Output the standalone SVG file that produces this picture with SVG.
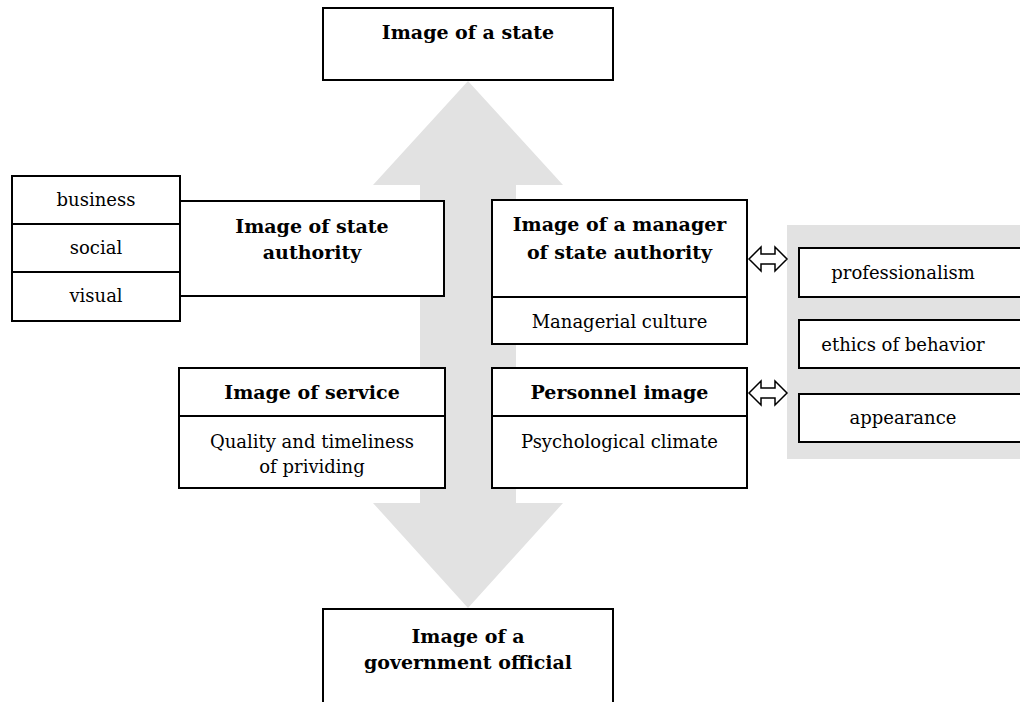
<svg xmlns="http://www.w3.org/2000/svg" width="1020" height="702" viewBox="0 0 1020 702">
<style>
.box{fill:#fff;stroke:#000;stroke-width:2}
.ln{stroke:#000;stroke-width:2;fill:none}
.b{font-family:"DejaVu Serif","Liberation Serif",serif;font-weight:bold;font-size:19px;text-anchor:middle;fill:#000}
.n{font-family:"DejaVu Serif","Liberation Serif",serif;font-size:18px;text-anchor:middle;fill:#000}
.da{fill:#fff;stroke:#000;stroke-width:1.5}
</style>
<rect width="1020" height="702" fill="#fff"/>
<g id="connectors">
<polygon id="big-arrow" fill="#e2e2e2" points="468,81 563,185 516,185 516,503 563,503 468,608 373,503 420,503 420,185 373,185"/>
<rect id="right-panel" x="787" y="225" width="240" height="234" fill="#e2e2e2"/>
<polygon class="da" points="749,259 761,247 761,254 775,254 775,247 787,259 775,271 775,264 761,264 761,271"/>
<polygon class="da" points="749,393 761,381 761,388 775,388 775,381 787,393 775,405 775,398 761,398 761,405"/>
</g>
<g id="state">
<rect class="box" x="323" y="8" width="290" height="72"/>
<text class="b" x="468" y="39">Image of a state</text>
</g>
<g id="aspects">
<rect class="box" x="12" y="176" width="168" height="145"/>
<line class="ln" x1="12" y1="224" x2="180" y2="224"/>
<line class="ln" x1="12" y1="272" x2="180" y2="272"/>
<text class="n" x="96" y="206">business</text>
<text class="n" x="96" y="254">social</text>
<text class="n" x="96" y="302">visual</text>
</g>
<g id="state-authority">
<rect class="box" x="180" y="201" width="264" height="95"/>
<text class="b" x="312" y="233">Image of state</text>
<text class="b" x="312" y="259">authority</text>
</g>
<g id="manager">
<rect class="box" x="492" y="200" width="255" height="144"/>
<line class="ln" x1="492" y1="297" x2="747" y2="297"/>
<text class="b" x="619.5" y="231">Image of a manager</text>
<text class="b" x="619.5" y="259">of state authority</text>
<text class="n" x="619.5" y="328">Managerial culture</text>
</g>
<g id="personnel">
<rect class="box" x="492" y="368" width="255" height="120"/>
<line class="ln" x1="492" y1="416" x2="747" y2="416"/>
<text class="b" x="619.5" y="399">Personnel image</text>
<text class="n" x="619.5" y="448">Psychological climate</text>
</g>
<g id="service">
<rect class="box" x="179" y="368" width="266" height="120"/>
<line class="ln" x1="179" y1="416" x2="445" y2="416"/>
<text class="b" x="312" y="399">Image of service</text>
<text class="n" x="312" y="448">Quality and timeliness</text>
<text class="n" x="312" y="473">of prividing</text>
</g>
<g id="professionalism">
<rect class="box" x="799" y="248" width="240" height="49"/>
<text class="n" x="903" y="279">professionalism</text>
</g>
<g id="ethics">
<rect class="box" x="799" y="320" width="240" height="48"/>
<text class="n" x="903" y="351">ethics of behavior</text>
</g>
<g id="appearance">
<rect class="box" x="799" y="394" width="240" height="48"/>
<text class="n" x="903" y="424">appearance</text>
</g>
<g id="official">
<rect class="box" x="323" y="609" width="290" height="110"/>
<text class="b" x="468" y="643">Image of a</text>
<text class="b" x="468" y="669">government official</text>
</g>
</svg>
